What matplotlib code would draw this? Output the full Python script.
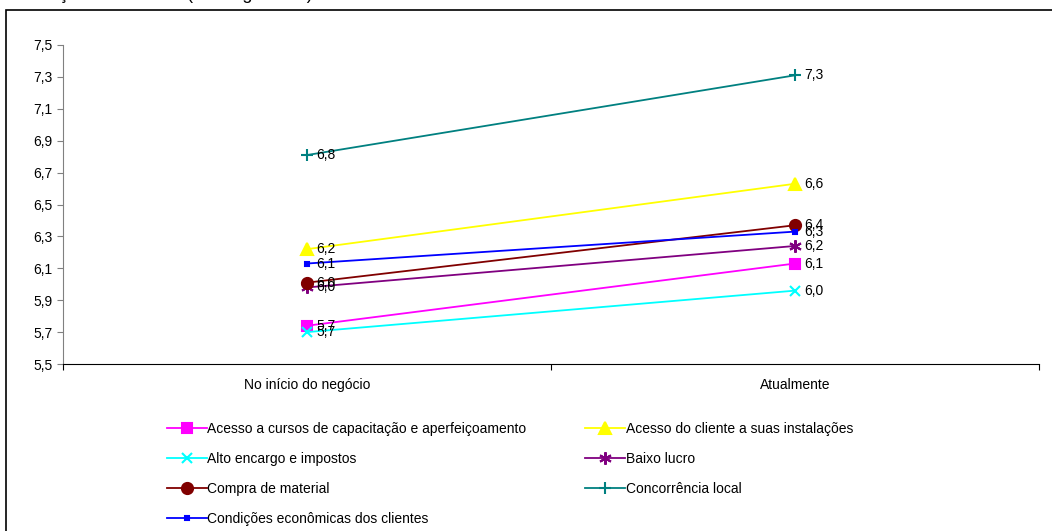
import matplotlib.pyplot as plt
from matplotlib.patches import Rectangle

plt.rcParams['font.family'] = ['Liberation Sans', 'DejaVu Sans']

periodos = ['No início do negócio', 'Atualmente']
series = ['Acesso a cursos de capacitação e aperfeiçoamento',
          'Acesso do cliente a suas instalações',
          'Alto encargo e impostos',
          'Baixo lucro',
          'Compra de material',
          'Concorrência local',
          'Condições econômicas dos clientes']
inicio = [5.74, 6.22, 5.70, 5.98, 6.01, 6.81, 6.13]
atual = [6.13, 6.63, 5.96, 6.24, 6.37, 7.31, 6.33]
cores = ['#ff00ff', '#ffff00', '#00ffff', '#800080', '#800000', '#008080', '#0000ff']
marcas = ['s', '^', 'x', (6, 2, 0), 'o', '+', 's']
tam = [7, 8, 7, 9, 8, 9, 3.5]

fig = plt.figure(figsize=(10.52, 5.31), dpi=100)
ax = fig.add_axes([63 / 1052, 1 - 364 / 531, (1039 - 63) / 1052, (364 - 45) / 531])

# moldura cortada do gráfico original
fig.patches.append(Rectangle((6 / 1052, -0.1), 1.2, 1 - 10 / 531 + 0.1,
                             transform=fig.transFigure, fill=False,
                             edgecolor='black', linewidth=1.2))
fig.text(10 / 1052, 1 + 1 / 531, 'Avaliação dos fatores (ranking médio)', fontsize=13,
         va='baseline', ha='left')

xs = [0.5, 1.5]
linhas = []
for i in range(len(series)):
    ys = [inicio[i], atual[i]]
    ln, = ax.plot(xs, ys, color=cores[i], marker=marcas[i], markersize=tam[i],
                  markeredgewidth=1.5, linewidth=1.3, label=series[i])
    linhas.append(ln)
    for x, y in zip(xs, ys):
        ax.annotate(('%.1f' % y).replace('.', ','), (x, y), xytext=(7, 0),
                    textcoords='offset points', fontsize=10, va='center')

ax.set_xlim(0, 2)
ax.set_ylim(5.5, 7.5)
ax.set_yticks([5.5 + 0.2 * k for k in range(11)])
ax.set_yticklabels([('%.1f' % (5.5 + 0.2 * k)).replace('.', ',') for k in range(11)],
                   fontsize=10)
ax.set_xticks([0, 1, 2])
ax.set_xticklabels([])
ax.set_xticks(xs, minor=True)
ax.set_xticklabels(periodos, minor=True, fontsize=10)
ax.tick_params(axis='x', which='minor', length=0, pad=10)
ax.tick_params(axis='x', which='major', length=4)
ax.tick_params(axis='y', length=4, color='#808080')
ax.spines['top'].set_visible(False)
ax.spines['right'].set_visible(False)
ax.spines['left'].set_color('#808080')
ax.spines['bottom'].set_color('black')

ordem = [0, 2, 4, 6, 1, 3, 5]
ax.legend([linhas[k] for k in ordem], [series[k] for k in ordem],
          loc='upper left', bbox_to_anchor=(154 / 1052, 1 - 409 / 531),
          bbox_transform=fig.transFigure, ncol=2, frameon=False, fontsize=10,
          handlelength=2.9, columnspacing=4.2, labelspacing=1.17, handletextpad=0.05)

fig.savefig('out.png', dpi=100)
